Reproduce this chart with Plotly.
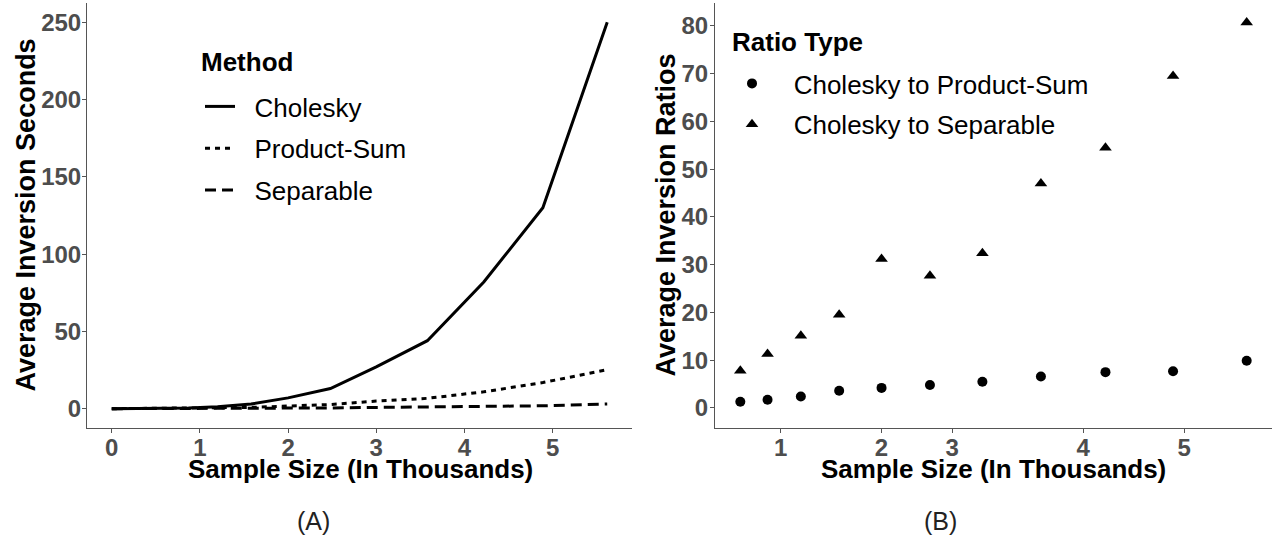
import plotly.graph_objects as go

# ---- data (left panel: inversion seconds) ----
size_k = [0, 0.6, 0.87, 1.2, 1.58, 2.0, 2.48, 3.0, 3.58, 4.22, 4.89, 5.62]
cholesky = [0, 0.2, 0.5, 1.3, 3.0, 7.0, 13.0, 27.0, 44.0, 82.0, 130.0, 250.0]
product_sum = [0, 0.15, 0.3, 0.55, 0.85, 1.7, 2.7, 4.9, 6.7, 10.9, 16.9, 25.2]
separable = [0, 0.03, 0.04, 0.09, 0.15, 0.22, 0.47, 0.83, 0.94, 1.5, 1.87, 3.1]

# ---- data (right panel: inversion ratios) ----
ratio_size_k = [0.6, 0.87, 1.2, 1.58, 2.0, 2.48, 3.0, 3.58, 4.22, 4.89, 5.62]
ratio_ps = [1.3, 1.7, 2.4, 3.6, 4.2, 4.8, 5.5, 6.6, 7.5, 7.7, 9.9]
ratio_sep = [7.8, 11.3, 15.1, 19.5, 31.2, 27.7, 32.4, 47.0, 54.5, 69.5, 80.7]

left_xticks = [0, 1, 2, 3, 4, 5]
left_yticks = [0, 50, 100, 150, 200, 250]
right_xtickvals = [1, 2, 2.7, 4, 5]
right_xticktext = ["1", "2", "3", "4", "5"]
right_yticks = [0, 10, 20, 30, 40, 50, 60, 70, 80]

W, H = 1278, 539
FONT = "Liberation Sans, Arial, sans-serif"
TICKCOL = "#4D4D4D"
NB = "\u00a0"

fig = go.Figure()

line_specs = [("Cholesky", cholesky, "solid"),
              ("Product-Sum", product_sum, "5px,5px"),
              ("Separable", separable, "11px,6px")]
for name, ys, dash in line_specs:
    fig.add_trace(go.Scatter(x=size_k, y=ys, mode="lines", name=NB * 2 + name,
                             line=dict(color="black", width=3, dash=dash),
                             xaxis="x", yaxis="y", legend="legend",
                             legendgroup=name))

fig.add_trace(go.Scatter(x=ratio_size_k, y=ratio_ps, mode="markers",
                         name=NB * 3 + "Cholesky to Product-Sum",
                         marker=dict(symbol="circle", size=10, color="black"),
                         xaxis="x2", yaxis="y2", legend="legend2",
                         legendgroup="ps"))
fig.add_trace(go.Scatter(x=ratio_size_k, y=ratio_sep, mode="markers",
                         name=NB * 3 + "Cholesky to Separable",
                         marker=dict(symbol="triangle-up", size=11, color="black"),
                         xaxis="x2", yaxis="y2", legend="legend2",
                         legendgroup="sep"))

def px(v):
    return v / W

def py(v):
    return 1 - v / H

tick_font = dict(family=FONT, size=24, color=TICKCOL, weight="bold")
xtitle_font = dict(family=FONT, size=26, color="black", weight="bold")
ytitle_font = dict(family=FONT, size=27, color="black", weight="bold")
axis_common = dict(showgrid=False, zeroline=False, showline=True, linecolor="#555555",
                   linewidth=1, ticks="outside", ticklen=4, tickcolor="#555555",
                   tickfont=tick_font, tickwidth=1, automargin=False)

leg_font = dict(family=FONT, size=26, color="black")
title_leg_font = dict(family=FONT, size=26, color="black", weight="bold")

def label(text, x, y, font, angle=0, xanchor="center"):
    return dict(text=text, x=px(x), y=py(y), xref="paper", yref="paper",
                xanchor=xanchor, yanchor="middle", showarrow=False,
                textangle=angle, font=font)

fig.update_layout(
    width=W, height=H,
    margin=dict(l=0, r=0, t=0, b=0),
    paper_bgcolor="white", plot_bgcolor="white",
    xaxis=dict(domain=[px(87), px(632)], range=[-0.281, 5.901], tickvals=left_xticks,
               ticklabelstandoff=-6, anchor="y", **axis_common),
    yaxis=dict(domain=[py(428), py(3)], range=[-12.5, 262.5], tickvals=left_yticks,
               ticklabelstandoff=-4, anchor="x", **axis_common),
    xaxis2=dict(domain=[px(715), px(1272)], range=[0.349, 5.871], tickvals=right_xtickvals,
                ticktext=right_xticktext, ticklabelstandoff=-6,
                anchor="y2", **axis_common),
    yaxis2=dict(domain=[py(428), py(3)], range=[-4.2, 84.8], tickvals=right_yticks,
                ticklabelstandoff=-3, anchor="x2", **axis_common),
    legend=dict(x=px(200), y=py(83), xanchor="left", yanchor="top",
                bgcolor="rgba(0,0,0,0)", font=leg_font,
                tracegroupgap=5, itemwidth=30),
    legend2=dict(x=px(732), y=py(60), xanchor="left", yanchor="top",
                 bgcolor="rgba(0,0,0,0)", font=leg_font,
                 tracegroupgap=4, itemwidth=30),
    showlegend=True,
    annotations=[
        label("Method", 199, 62, title_leg_font, xanchor="left"),
        label("Ratio Type", 730, 42, title_leg_font, xanchor="left"),
        label("Sample Size (In Thousands)", 360, 469, xtitle_font),
        label("Sample Size (In Thousands)", 993, 469, xtitle_font),
        label("Average Inversion Seconds", 25, 215.5, ytitle_font, angle=-90),
        label("Average Inversion Ratios", 665, 215.5, ytitle_font, angle=-90),
        label("(A)", 313, 521, dict(family=FONT, size=25, color="#222222")),
        label("(B)", 940, 521, dict(family=FONT, size=25, color="#222222")),
    ],
)

fig.write_html("out.html", config={"displayModeBar": False},
               post_script="document.body.style.margin='0';document.body.style.padding='0';")
